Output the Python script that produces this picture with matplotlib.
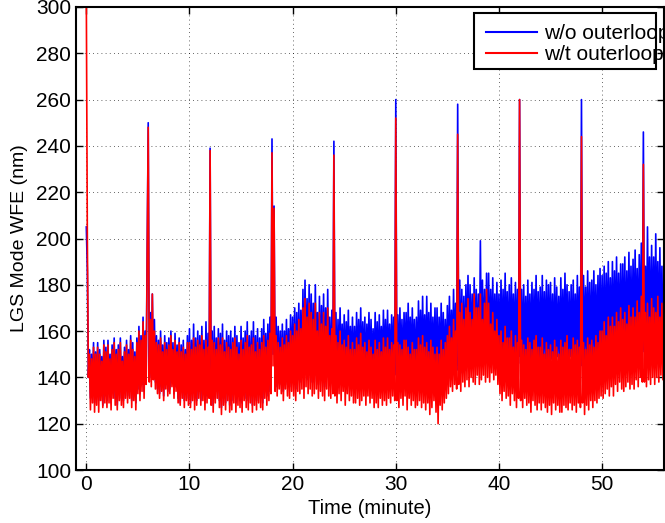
import numpy as np
import matplotlib
matplotlib.use("Agg")
import matplotlib.pyplot as plt
from matplotlib.patches import Rectangle

plt.rcParams["font.family"] = ["Liberation Sans", "DejaVu Sans"]

# samples every 0.1 minute, one row per minute
STEP = 0.1
WO_OUTERLOOP = [
    205, 186, 140, 152, 131, 150, 133, 155, 129, 151,
    134, 155, 130, 152, 136, 149, 128, 156, 132, 153,
    130, 156, 133, 150, 129, 154, 135, 157, 131, 152,
    128, 154, 135, 157, 131, 149, 130, 153, 134, 156,
    132, 152, 134, 158, 130, 155, 133, 151, 129, 157,
    135, 162, 133, 158, 137, 166, 134, 160, 140, 195,
    250, 145, 168, 140, 176, 142, 165, 138, 158, 135,
    156, 133, 160, 136, 154, 132, 158, 137, 155, 134,
    157, 135, 160, 138, 155, 133, 159, 136, 154, 131,
    157, 129, 154, 134, 156, 130, 152, 133, 158, 131,
    161, 129, 156, 133, 163, 131, 157, 130, 160, 134,
    158, 130, 162, 133, 156, 129, 164, 132, 159, 135,
    239, 132, 160, 128, 162, 131, 157, 134, 161, 130,
    159, 127, 163, 131, 156, 129, 160, 133, 158, 128,
    160, 130, 157, 133, 162, 129, 158, 132, 155, 130,
    162, 129, 157, 134, 160, 131, 164, 130, 158, 133,
    160, 128, 164, 132, 158, 130, 161, 133, 157, 131,
    161, 129, 165, 135, 159, 132, 163, 134, 166, 137,
    243, 150, 214, 138, 166, 136, 162, 139, 160, 137,
    163, 134, 160, 140, 165, 137, 161, 136, 167, 139,
    166, 137, 170, 135, 168, 139, 172, 138, 169, 140,
    178, 136, 182, 142, 174, 139, 180, 141, 176, 138,
    172, 138, 180, 141, 168, 137, 175, 140, 171, 139,
    176, 136, 170, 141, 178, 139, 166, 138, 169, 140,
    242, 140, 168, 137, 165, 141, 170, 139, 163, 142,
    167, 138, 164, 143, 169, 140, 162, 142, 166, 139,
    162, 139, 168, 142, 165, 140, 170, 141, 164, 143,
    166, 137, 163, 144, 168, 140, 165, 142, 161, 139,
    168, 141, 164, 138, 167, 143, 162, 140, 169, 142,
    165, 139, 169, 142, 163, 140, 167, 143, 166, 141,
    260, 143, 167, 140, 170, 142, 165, 139, 168, 144,
    168, 139, 172, 144, 166, 141, 170, 143, 165, 140,
    166, 141, 173, 143, 169, 140, 175, 142, 167, 139,
    175, 142, 168, 139, 172, 141, 166, 143, 170, 138,
    170, 137, 166, 141, 172, 139, 168, 142, 165, 140,
    171, 140, 175, 145, 169, 142, 178, 144, 172, 143,
    258, 145, 182, 142, 178, 146, 175, 143, 180, 147,
    184, 143, 180, 148, 176, 145, 183, 147, 178, 146,
    176, 145, 199, 147, 182, 149, 178, 146, 185, 148,
    185, 146, 178, 149, 183, 147, 176, 150, 181, 148,
    176, 145, 182, 148, 178, 146, 185, 149, 177, 147,
    180, 144, 183, 150, 176, 147, 181, 146, 178, 149,
    260, 146, 178, 143, 180, 148, 175, 146, 182, 147,
    176, 145, 181, 147, 178, 149, 184, 146, 177, 148,
    179, 144, 184, 146, 177, 148, 182, 145, 180, 147,
    181, 148, 176, 143, 183, 146, 179, 149, 175, 145,
    183, 147, 178, 145, 185, 148, 180, 146, 177, 149,
    180, 143, 182, 148, 176, 146, 184, 147, 179, 145,
    260, 145, 184, 147, 179, 149, 186, 146, 181, 148,
    182, 146, 186, 150, 180, 147, 184, 149, 187, 148,
    184, 148, 188, 146, 185, 150, 190, 149, 183, 151,
    190, 147, 186, 151, 192, 149, 185, 152, 189, 150,
    189, 149, 192, 148, 186, 152, 194, 150, 188, 151,
    191, 150, 195, 153, 187, 151, 193, 154, 198, 152,
    246, 151, 188, 149, 205, 153, 192, 150, 197, 154,
    192, 150, 202, 155, 190, 152, 196, 153, 188, 151,
    185,
]
WT_OUTERLOOP = [
    305, 200, 140, 150, 126, 148, 129, 153, 125, 150,
    128, 153, 125, 150, 130, 147, 127, 154, 129, 151,
    127, 154, 129, 148, 126, 152, 131, 155, 128, 150,
    126, 152, 130, 155, 128, 147, 127, 151, 131, 154,
    129, 150, 131, 156, 127, 152, 130, 149, 126, 155,
    133, 160, 130, 156, 134, 164, 131, 158, 137, 190,
    248, 138, 165, 136, 176, 139, 160, 135, 155, 133,
    154, 131, 157, 134, 151, 130, 155, 135, 152, 132,
    154, 133, 158, 136, 152, 131, 156, 134, 151, 129,
    155, 128, 151, 131, 153, 127, 150, 130, 155, 128,
    155, 127, 152, 130, 157, 126, 153, 128, 156, 131,
    154, 128, 158, 130, 152, 126, 156, 129, 153, 131,
    238, 128, 156, 125, 155, 129, 152, 131, 157, 127,
    154, 124, 157, 128, 151, 126, 155, 130, 153, 125,
    152, 126, 155, 129, 157, 125, 153, 128, 150, 127,
    156, 125, 152, 130, 155, 127, 158, 126, 153, 129,
    154, 125, 157, 128, 151, 126, 155, 129, 152, 127,
    155, 126, 158, 131, 153, 128, 156, 130, 159, 133,
    237, 145, 213, 134, 158, 132, 155, 135, 153, 133,
    157, 130, 154, 135, 158, 132, 155, 131, 160, 134,
    158, 132, 163, 130, 160, 134, 165, 133, 161, 135,
    170, 131, 174, 136, 166, 133, 172, 135, 168, 132,
    165, 133, 172, 135, 160, 131, 168, 134, 163, 132,
    168, 130, 162, 135, 170, 132, 158, 131, 161, 133,
    236, 132, 158, 129, 155, 133, 160, 130, 154, 134,
    156, 128, 153, 133, 158, 130, 152, 132, 155, 129,
    152, 129, 157, 131, 154, 128, 159, 130, 153, 132,
    155, 128, 151, 132, 156, 129, 153, 131, 150, 127,
    156, 129, 152, 127, 155, 131, 151, 128, 157, 130,
    153, 128, 157, 131, 152, 129, 155, 132, 154, 130,
    252, 130, 155, 127, 154, 131, 152, 128, 156, 132,
    156, 126, 153, 131, 150, 128, 155, 130, 152, 127,
    152, 128, 157, 130, 154, 127, 158, 129, 153, 126,
    155, 129, 151, 124, 156, 127, 153, 130, 150, 125,
    153, 120, 150, 128, 156, 126, 152, 129, 155, 131,
    158, 133, 162, 136, 157, 134, 165, 137, 160, 135,
    245, 137, 168, 134, 172, 138, 165, 136, 170, 139,
    174, 136, 168, 140, 165, 138, 176, 137, 170, 141,
    170, 137, 176, 139, 165, 141, 172, 138, 178, 140,
    172, 138, 163, 142, 168, 139, 160, 141, 165, 137,
    158, 133, 160, 130, 155, 134, 162, 131, 157, 132,
    157, 128, 160, 133, 153, 130, 158, 127, 155, 131,
    260, 130, 156, 127, 154, 131, 152, 128, 157, 129,
    155, 125, 152, 130, 156, 128, 158, 126, 153, 129,
    153, 126, 157, 129, 150, 127, 155, 125, 152, 128,
    154, 124, 151, 129, 156, 126, 153, 128, 150, 125,
    156, 125, 153, 128, 155, 127, 158, 126, 152, 129,
    152, 126, 157, 128, 154, 125, 156, 129, 153, 127,
    244, 129, 155, 124, 152, 128, 157, 126, 154, 130,
    156, 127, 153, 130, 158, 129, 155, 131, 160, 132,
    160, 131, 164, 133, 158, 135, 166, 132, 162, 136,
    166, 132, 162, 137, 168, 134, 164, 138, 170, 135,
    165, 134, 168, 136, 163, 138, 171, 135, 166, 137,
    170, 135, 166, 139, 173, 136, 168, 140, 175, 138,
    232, 138, 168, 136, 172, 139, 166, 137, 174, 140,
    170, 137, 168, 140, 175, 138, 166, 141, 172, 139,
    168,
]
SERIES_NAMES = ["w/o outerloop", "w/t outerloop"]
X_TICKS = [0, 10, 20, 30, 40, 50]
Y_TICKS = list(range(100, 301, 20))

t = np.arange(len(WO_OUTERLOOP)) * STEP

fig = plt.figure(figsize=(6.65, 5.23), dpi=100)
ax = fig.add_axes([76 / 665, 53 / 523, 588 / 665, 463 / 523])

l1, = ax.plot(t, WO_OUTERLOOP, color="#0000ff", lw=1.2, label=SERIES_NAMES[0])
l2, = ax.plot(t, WT_OUTERLOOP, color="#ff0000", lw=1.2, label=SERIES_NAMES[1])

ax.set_xlim(-1, 56)
ax.set_ylim(100, 300)
ax.set_xticks(X_TICKS)
ax.set_yticks(Y_TICKS)
ax.tick_params(direction="in", top=True, right=True, labelsize=15, length=5, width=1)
ax.grid(True, linestyle=(0, (1, 4)), color="black", linewidth=0.6, alpha=0.8)
for s in ax.spines.values():
    s.set_linewidth(1.5)

ax.set_xlabel("Time (minute)", fontsize=14.5, labelpad=4)
ax.set_ylabel("LGS Mode WFE (nm)", fontsize=14, labelpad=6)

# legend box like the MATLAB one (text runs past the frame)
box = Rectangle((474 / 665, 1 - 69 / 523), 182 / 665, 56 / 523, transform=fig.transFigure,
                facecolor="white", edgecolor="black", linewidth=1.5, zorder=4)
fig.patches.append(box)
leg = fig.legend(handles=[l1, l2], loc="upper left", bbox_to_anchor=(476 / 665, 1 - 14 / 523),
                 frameon=False, fontsize=15, handlelength=2.45, handletextpad=0.3,
                 borderpad=0, labelspacing=0.1)
for h in leg.get_lines():
    h.set_linewidth(1.5)

fig.savefig("out.png", dpi=100)
